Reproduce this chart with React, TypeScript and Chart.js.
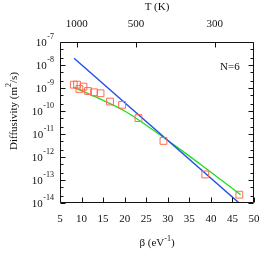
import React, { useEffect, useRef } from "react";
import { Chart, registerables } from "chart.js";

Chart.register(...registerables);

// Simulation points (red squares)
const beta = [8.2, 8.95, 9.5, 10.45, 11.5, 12.9, 14.4, 16.6, 19.4, 23.2, 29.0, 38.7, 46.6];
const diffusivity = [1.4e-9, 1.4e-9, 9.1e-10, 1.15e-9, 7.4e-10, 6.5e-10, 5.9e-10, 2.57e-10, 1.86e-10, 4.9e-11, 5.0e-12, 1.74e-13, 2.3e-14];

// Arrhenius fit (blue)
const blueBeta = [8.26, 46.5];
const blueD = [1.95e-8, 1.02e-14];

// Curved fit (green)
const greenBeta = [8.3, 14, 20, 26, 32, 38, 46.9];
const greenD = [1.05e-9, 3.55e-10, 1.0e-10, 1.78e-11, 2.82e-12, 4.17e-13, 2.29e-14];

// Axes
const xTicks = [5, 10, 15, 20, 25, 30, 35, 40, 45, 50];
const yExponents = [-14, -13, -12, -11, -10, -9, -8, -7];
const yMinorFactors = [2, 5];
const topTickT = ["1000", "500", "300"];
const topTickBeta = [8.9, 22.6, 40.9];

const FONT = "'Liberation Serif', 'Times New Roman', serif";

const framePlugin = {
  id: "frame",
  afterDraw(chart: any) {
    const ctx = chart.ctx as CanvasRenderingContext2D;
    const { left, right, top, bottom } = chart.chartArea;
    const xs = chart.scales.x;
    const ys = chart.scales.y;
    const L = Math.round(left) + 0.5;
    const R = Math.round(right) - 0.5;
    const T = Math.round(top) + 0.5;
    const B = Math.round(bottom) - 0.5;
    ctx.save();
    ctx.strokeStyle = "#111";
    ctx.fillStyle = "#111";
    ctx.lineWidth = 1;
    ctx.beginPath();
    ctx.rect(L, T, R - L, B - T);
    ctx.stroke();

    const major = 5;
    const minor = 3;
    ctx.beginPath();
    // bottom ticks
    xTicks.forEach((v) => {
      const px = Math.round(xs.getPixelForValue(v)) + 0.5;
      ctx.moveTo(px, B);
      ctx.lineTo(px, B - major);
    });
    // top ticks
    topTickBeta.forEach((v) => {
      const px = Math.round(xs.getPixelForValue(v)) + 0.5;
      ctx.moveTo(px, T);
      ctx.lineTo(px, T + major);
    });
    // y ticks
    yExponents.forEach((e) => {
      const py = Math.round(ys.getPixelForValue(Math.pow(10, e))) + 0.5;
      ctx.moveTo(L, py);
      ctx.lineTo(L + major, py);
      ctx.moveTo(R, py);
      ctx.lineTo(R - major, py);
      if (e < -7) {
        yMinorFactors.forEach((f) => {
          const pm = Math.round(ys.getPixelForValue(f * Math.pow(10, e))) + 0.5;
          ctx.moveTo(L, pm);
          ctx.lineTo(L + minor, pm);
          ctx.moveTo(R, pm);
          ctx.lineTo(R - minor, pm);
        });
      }
    });
    ctx.stroke();

    // labels
    const mainFont = `11px ${FONT}`;
    const supFont = `8px ${FONT}`;
    ctx.textBaseline = "middle";
    ctx.font = mainFont;
    ctx.textAlign = "center";
    xTicks.forEach((v) => {
      ctx.fillText(String(v), xs.getPixelForValue(v), 219.5);
    });
    topTickBeta.forEach((v, i) => {
      ctx.fillText(topTickT[i], xs.getPixelForValue(v), 24);
    });
    ctx.fillText("T (K)", (left + right) / 2, 7.5);

    // y labels with superscript exponents
    ctx.textAlign = "left";
    yExponents.forEach((e) => {
      const py = ys.getPixelForValue(Math.pow(10, e));
      const sup = String(e);
      ctx.font = supFont;
      const sw = ctx.measureText(sup).width;
      ctx.font = mainFont;
      const mw = ctx.measureText("10").width;
      const rightEdge = 54;
      const x0 = rightEdge - sw - mw - 0.5;
      ctx.fillText("10", x0, py + 0.7);
      ctx.font = supFont;
      ctx.fillText(sup, x0 + mw + 0.5, py - 5.5);
    });

    // mixed text helper
    const drawMixed = (parts: [string, boolean][], cx: number, cy: number) => {
      let total = 0;
      parts.forEach(([t, s]) => {
        ctx.font = s ? supFont : mainFont;
        total += ctx.measureText(t).width;
      });
      let x = cx - total / 2;
      parts.forEach(([t, s]) => {
        ctx.font = s ? supFont : mainFont;
        ctx.fillText(t, x, s ? cy - 5 : cy);
        x += ctx.measureText(t).width;
      });
    };

    ctx.textAlign = "left";
    drawMixed([["β (eV", false], ["-1", true], [")", false]], (left + right) / 2, 243.5);

    ctx.save();
    ctx.translate(14, 111);
    ctx.rotate(-Math.PI / 2);
    drawMixed([["Diffusivity (m", false], ["2", true], ["/s)", false]], 0, 0);
    ctx.restore();

    ctx.font = mainFont;
    ctx.textAlign = "left";
    ctx.fillText("N=6", 220, 67.5);
    ctx.restore();
  },
};

export default function App() {
  const ref = useRef<HTMLCanvasElement | null>(null);
  useEffect(() => {
    if (!ref.current) return;
    const chart = new Chart(ref.current, {
      type: "line",
      data: {
        datasets: [
          {
            label: "sim",
            data: beta.map((b, i) => ({ x: b, y: diffusivity[i] })),
            showLine: false,
            pointStyle: "rect",
            pointRadius: 4.8,
            pointBorderWidth: 1,
            pointBorderColor: "#ff6a50",
            pointBackgroundColor: "rgba(0,0,0,0)",
            borderColor: "#ff6a50",
            order: 0,
          },
          {
            label: "arrhenius",
            data: blueBeta.map((b, i) => ({ x: b, y: blueD[i] })),
            borderColor: "#1f4fe8",
            borderWidth: 1.4,
            pointRadius: 0,
            order: 1,
          },
          {
            label: "fit",
            data: greenBeta.map((b, i) => ({ x: b, y: greenD[i] })),
            borderColor: "#22dd22",
            borderWidth: 1.4,
            pointRadius: 0,
            tension: 0,
            cubicInterpolationMode: "monotone",
            order: 2,
          },
        ],
      },
      options: {
        animation: false,
        responsive: false,
        layout: { padding: { left: 60, right: 20, top: 42, bottom: 71 } },
        plugins: { legend: { display: false }, tooltip: { enabled: false } },
        scales: {
          x: { type: "linear", min: 5, max: 50, display: false },
          y: { type: "logarithmic", min: 1e-14, max: 1e-7, display: false },
        },
      },
      plugins: [framePlugin],
    });
    return () => chart.destroy();
  }, []);
  return (
    <div style={{ position: "fixed", left: 0, top: 0, width: 274, height: 274, background: "#fff" }}>
      <canvas ref={ref} width={274} height={274} />
    </div>
  );
}
